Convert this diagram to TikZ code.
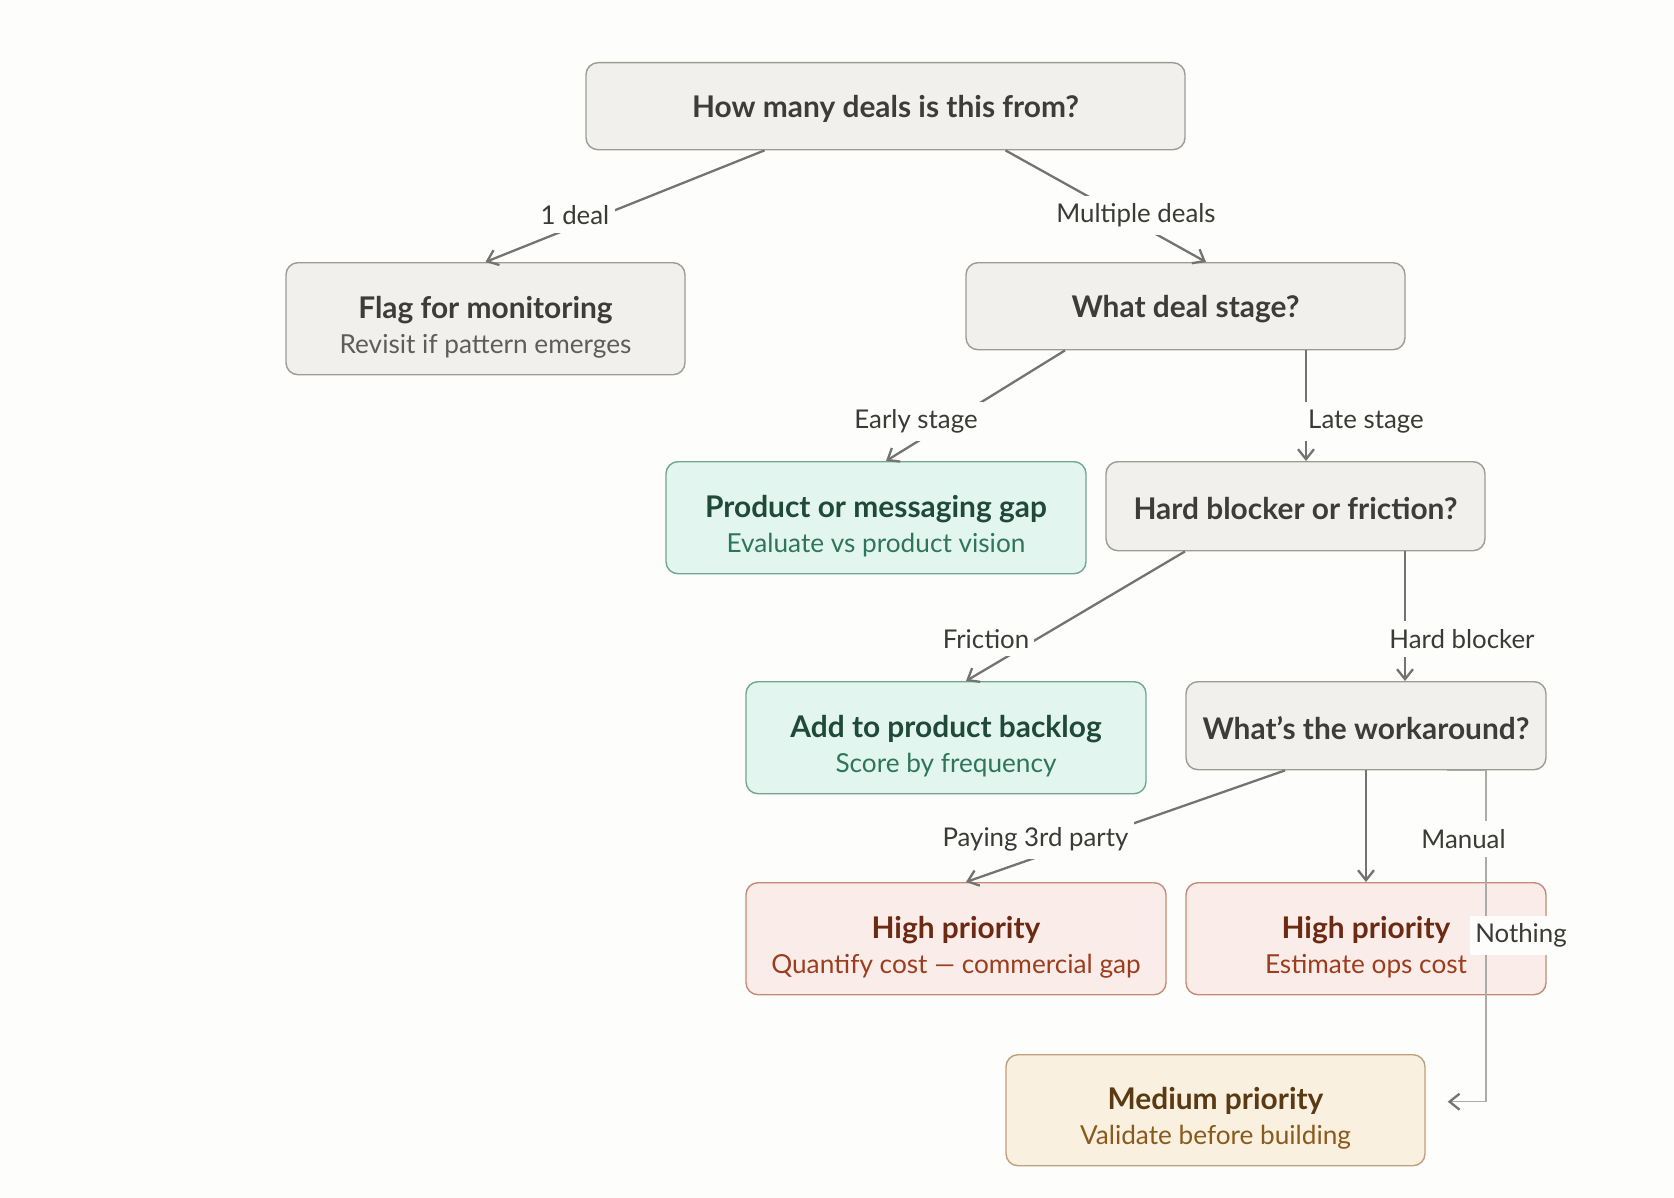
\documentclass[tikz,border=0pt]{standalone}
\usepackage{fontspec}
\setmainfont{Lato}
\usepackage{xcolor}
\usetikzlibrary{arrows.meta,positioning}

\definecolor{bg}{HTML}{FDFDFB}
\definecolor{edge}{HTML}{737371}
\definecolor{faint}{HTML}{ABABA9}
\definecolor{lbltext}{HTML}{3A3A37}
\definecolor{grayfill}{HTML}{F1F0EC}
\definecolor{grayline}{HTML}{9C9B96}
\definecolor{graytext}{HTML}{3C3C39}
\definecolor{graysub}{HTML}{5E5D59}
\definecolor{greenfill}{HTML}{E3F5EF}
\definecolor{greenline}{HTML}{72A692}
\definecolor{greentext}{HTML}{1F4A39}
\definecolor{greensub}{HTML}{2E7659}
\definecolor{redfill}{HTML}{FAECE8}
\definecolor{redline}{HTML}{C68B77}
\definecolor{redtext}{HTML}{6C2A13}
\definecolor{redsub}{HTML}{9C3D1E}
\definecolor{tanfill}{HTML}{FAF0DF}
\definecolor{tanline}{HTML}{C0A07A}
\definecolor{tantext}{HTML}{5A3A12}
\definecolor{tansub}{HTML}{8A5A1D}

\newcommand{\subline}[2]{{\fontsize{14.9}{18}\selectfont\mdseries\color{#1}#2}}

\begin{document}
\begin{tikzpicture}[
  box/.style={draw, rounded corners=0.24cm, align=center, anchor=north, line width=0.8pt, minimum height=1.75cm, font=\fontsize{17}{20}\selectfont\bfseries, execute at begin node=\rule{0pt}{15.5pt}},
  twoline/.style={minimum height=2.24cm, execute at begin node=\rule{0pt}{42pt}},
  graybox/.style={box, fill=grayfill, draw=grayline, text=graytext},
  greenbox/.style={box, twoline, fill=greenfill, draw=greenline, text=greentext},
  redbox/.style={box, twoline, fill=redfill, draw=redline, text=redtext},
  tanbox/.style={box, twoline, fill=tanfill, draw=tanline, text=tantext},
  lbl/.style={fill=bg, inner xsep=3pt, inner ysep=4.5pt, font=\fontsize{14.7}{16}\selectfont, text=lbltext},
  arr/.style={-{Straight Barb[length=2mm, width=3.2mm]}, line width=1.3pt, draw=edge},
  thinarr/.style={-{Straight Barb[length=2mm, width=3.2mm, color=edge, line width=1.3pt]}, line width=0.8pt, draw=faint}
]
\fill[bg] (0,0) rectangle (33.48,-23.96);
\useasboundingbox (0,0) rectangle (33.48,-23.96);

\node[graybox, minimum width=11.98cm, minimum height=1.74cm] (deals) at (17.71,-1.24) {How many deals is this from?};
\node[graybox, twoline, minimum width=7.98cm] (flag) at (9.71,-5.24) {Flag for monitoring\\\subline{graysub}{Revisit if pattern emerges}};
\node[graybox, minimum width=8.78cm, minimum height=1.74cm] (stage) at (23.71,-5.24) {What deal stage?};
\node[greenbox, minimum width=8.40cm] (gap) at (17.52,-9.22) {Product or messaging gap\\\subline{greensub}{Evaluate vs product vision}};
\node[graybox, minimum width=7.58cm, minimum height=1.78cm] (blocker) at (25.91,-9.22) {Hard blocker or friction?};
\node[greenbox, minimum width=8.00cm] (backlog) at (18.92,-13.62) {Add to product backlog\\\subline{greensub}{Score by frequency}};
\node[graybox, minimum width=7.20cm, minimum height=1.76cm] (workaround) at (27.32,-13.62) {What’s the workaround?};
\node[redbox, minimum width=8.40cm] (thirdparty) at (19.12,-17.64) {High priority\\\subline{redsub}{Quantify cost — commercial gap}};
\node[redbox, minimum width=7.20cm] (manual) at (27.32,-17.64) {High priority\\\subline{redsub}{Estimate ops cost}};
\node[tanbox, minimum width=8.38cm, minimum height=2.22cm] (medium) at (24.31,-21.08) {Medium priority\\\subline{tansub}{Validate before building}};

\draw[arr] ([xshift=-2.42cm]deals.south) -- (flag.north);
\draw[arr] ([xshift=2.40cm]deals.south) -- ([xshift=0.41cm]stage.north);
\draw[arr] ([xshift=-2.41cm]stage.south) -- ([xshift=0.2cm]gap.north);
\draw[arr] ([xshift=2.41cm]stage.south) -- ([xshift=2.41cm]stage.south |- blocker.north);
\draw[arr] ([xshift=-2.21cm]blocker.south) -- ([xshift=0.4cm]backlog.north);
\draw[arr] ([xshift=2.19cm]blocker.south) -- ([xshift=2.19cm]blocker.south |- workaround.north);
\draw[arr] ([xshift=-1.62cm]workaround.south) -- ([xshift=0.2cm]thirdparty.north);
\draw[arr] (workaround.south) -- (manual.north);
\draw[thinarr] ([xshift=1.62cm]workaround.south) -- ([xshift=2.40cm]workaround.south) |- ([xshift=0.44cm,yshift=0.17cm]medium.east);

\node[lbl] (onedeal) at (11.50,-4.31) {1 deal};
\node[lbl] (multi) at (22.72,-4.31) {Multiple deals};
\node[lbl] (early) at (18.32,-8.43) {Early stage};
\node[lbl] (late) at (27.32,-8.43) {Late stage};
\node[lbl] (friction) at (19.72,-12.78) {Friction};
\node[lbl] (hard) at (29.24,-12.78) {Hard blocker};
\node[lbl] (paying) at (20.71,-16.78) {Paying 3rd party};
\node[lbl] (manuallbl) at (29.27,-16.78) {Manual};
\node[lbl] (nothing) at (30.42,-18.71) {Nothing};
\end{tikzpicture}
\end{document}
